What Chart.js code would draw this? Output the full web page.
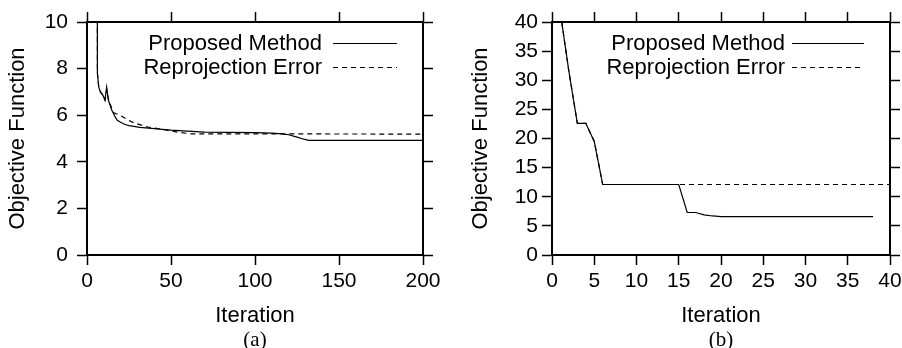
<!DOCTYPE html>
<html>
<head>
<meta charset="utf-8">
<script src="https://cdn.jsdelivr.net/npm/chart.js@4/dist/chart.umd.min.js"></script>
<style>
  html, body { margin: 0; padding: 0; background: #fff; }
  #wrap { position: relative; width: 902px; height: 348px; overflow: hidden; }
  canvas { position: absolute; top: 0; }
  .cap { position: absolute; top: 327px; width: 60px; text-align: center; line-height: 24px;
         font: 21px 'Liberation Serif', 'Times New Roman', serif; color: #000; }
</style>
</head>
<body>
<div id="wrap">
  <canvas id="chartA" width="450" height="348" style="left:0"></canvas>
  <canvas id="chartB" width="452" height="348" style="left:450px"></canvas>
  <div class="cap" style="left:225px">(a)</div>
  <div class="cap" style="left:691px">(b)</div>
</div>
<script>
// (a) long run, 0..200 iterations
const iterA_proposed = [6.1, 6.2, 7, 8, 9.5, 10.7, 11.7, 12.7, 14.7, 16.7, 18, 20, 22.6, 25, 31.5, 40, 45, 50, 60, 70, 85, 100, 110, 116, 120, 125, 129, 132, 200];
const valA_proposed  = [14, 7.8, 7.2, 7.0, 6.85, 6.65, 7.2, 6.65, 6.22, 5.94, 5.78, 5.7, 5.6, 5.55, 5.48, 5.42, 5.39, 5.36, 5.32, 5.27, 5.26, 5.25, 5.23, 5.2, 5.16, 5.06, 4.97, 4.92, 4.92];
const iterA_reproj   = [6.1, 6.2, 7, 8, 9.5, 10.7, 11.7, 12.7, 14.7, 16, 19.6, 23, 27.6, 35.5, 45, 50, 55, 62, 200];
const valA_reproj    = [14, 7.8, 7.2, 7.0, 6.85, 6.65, 7.1, 6.7, 6.3, 6.1, 6.0, 5.85, 5.68, 5.5, 5.39, 5.33, 5.26, 5.2, 5.19];

// (b) short run, 0..40 iterations
const iterB_proposed = [1, 2, 3, 4, 5, 6, 15, 16, 17, 18, 19, 20, 38];
const valB_proposed  = [41.5, 31.5, 22.6, 22.6, 19.5, 12.1, 12.1, 7.3, 7.3, 6.9, 6.7, 6.6, 6.6];
const iterB_reproj   = [1, 2, 3, 4, 5, 6, 15, 40];
const valB_reproj    = [41.5, 31.5, 22.6, 22.6, 19.5, 12.1, 12.1, 12.1];

const TICKS_A_X = [0, 50, 100, 150, 200];
const TICKS_A_Y = [0, 2, 4, 6, 8, 10];
const TICKS_B_X = [0, 5, 10, 15, 20, 25, 30, 35, 40];
const TICKS_B_Y = [0, 5, 10, 15, 20, 25, 30, 35, 40];

const FONT_FAMILY = "'Liberation Sans', Arial, Helvetica, sans-serif";
const TICK_FONT  = { family: FONT_FAMILY, size: 21 };
const TITLE_FONT = { family: FONT_FAMILY, size: 22 };

const toPoints = (xs, ys) => xs.map((x, i) => ({ x, y: ys[i] }));

// legend drawn inside the plot: text right-aligned, line sample to its right
const insideLegend = {
  id: 'insideLegend',
  afterDatasetsDraw(chart, args, opts) {
    const { ctx, chartArea } = chart;
    ctx.save();
    ctx.font = TITLE_FONT.size + 'px ' + FONT_FAMILY;
    ctx.fillStyle = '#000';
    ctx.strokeStyle = '#000';
    ctx.lineWidth = 1.2;
    ctx.textAlign = 'right';
    ctx.textBaseline = 'middle';
    chart.data.datasets.forEach((ds, i) => {
      const y = chartArea.top + opts.top + i * opts.gap;
      ctx.fillText(ds.label, chartArea.right - opts.textRight, y + 1);
      ctx.setLineDash(ds.borderDash || []);
      ctx.beginPath();
      ctx.moveTo(chartArea.right - opts.lineFrom, y + 0.5);
      ctx.lineTo(chartArea.right - opts.lineTo, y + 0.5);
      ctx.stroke();
    });
    ctx.restore();
  }
};

function fixSize(prop, px) {
  return scale => {
    scale[prop] = px;
    scale.paddingLeft = scale.paddingRight = scale.paddingTop = scale.paddingBottom = 0;
  };
}

function edgeScale(position, min, max, tickVals, size) {
  const horizontal = position === 'top' || position === 'bottom';
  return {
    type: 'linear', position, min, max,
    afterBuildTicks: s => { s.ticks = tickVals.map(v => ({ value: v })); },
    afterFit: fixSize(horizontal ? 'height' : 'width', size),
    ticks: { display: false },
    grid: { drawOnChartArea: false, drawTicks: true, tickLength: 10, tickWidth: 1.5, tickColor: '#000' },
    border: { display: true, color: '#000', width: 2 }
  };
}

function makeChart(canvas, cfg) {
  return new Chart(canvas, {
    type: 'scatter',
    data: {
      datasets: [
        { label: 'Proposed Method', data: toPoints(cfg.xp, cfg.yp),
          showLine: true, borderColor: '#000', borderWidth: 1.2, pointRadius: 0, tension: 0 },
        { label: 'Reprojection Error', data: toPoints(cfg.xr, cfg.yr),
          showLine: true, borderColor: '#000', borderWidth: 1.2, borderDash: [5, 4], pointRadius: 0, tension: 0 }
      ]
    },
    options: {
      responsive: false,
      animation: false,
      layout: { padding: 0 },
      plugins: {
        legend: { display: false },
        tooltip: { enabled: false },
        insideLegend: cfg.legend
      },
      scales: {
        x: {
          type: 'linear', position: 'bottom', min: cfg.xmin, max: cfg.xmax,
          afterBuildTicks: s => { s.ticks = cfg.xticks.map(v => ({ value: v })); },
          afterFit: fixSize('height', 93),
          ticks: { color: '#000', font: TICK_FONT, padding: 4, maxRotation: 0, autoSkip: false },
          grid: { drawOnChartArea: false, drawTicks: true, tickLength: 10, tickWidth: 1.5, tickColor: '#000' },
          border: { display: true, color: '#000', width: 2 },
          title: { display: true, text: 'Iteration', color: '#000', font: TITLE_FONT, padding: { top: 0, bottom: 19 } }
        },
        y: {
          type: 'linear', position: 'left', min: cfg.ymin, max: cfg.ymax,
          afterBuildTicks: s => { s.ticks = cfg.yticks.map(v => ({ value: v })); },
          afterFit: fixSize('width', cfg.yWidth),
          ticks: { color: '#000', font: TICK_FONT, padding: cfg.yPad, autoSkip: false },
          grid: { drawOnChartArea: false, drawTicks: true, tickLength: 10, tickWidth: 1.5, tickColor: '#000' },
          border: { display: true, color: '#000', width: 2 },
          title: { display: true, text: 'Objective Function', color: '#000', font: TITLE_FONT, padding: { top: cfg.yTitlePad, bottom: 0 } }
        },
        x2: edgeScale('top', cfg.xmin, cfg.xmax, cfg.xticks, 22),
        y2: edgeScale('right', cfg.ymin, cfg.ymax, cfg.yticks, cfg.rightWidth)
      }
    },
    plugins: [insideLegend]
  });
}

makeChart(document.getElementById('chartA'), {
  xp: iterA_proposed, yp: valA_proposed, xr: iterA_reproj, yr: valA_reproj,
  xmin: 0, xmax: 200, ymin: 0, ymax: 10, xticks: TICKS_A_X, yticks: TICKS_A_Y,
  yWidth: 87, rightWidth: 27, yPad: 9, yTitlePad: 5,
  legend: { top: 21, gap: 24, textRight: 101, lineFrom: 90, lineTo: 26 }
});

makeChart(document.getElementById('chartB'), {
  xp: iterB_proposed, yp: valB_proposed, xr: iterB_reproj, yr: valB_reproj,
  xmin: 0, xmax: 40, ymin: 0, ymax: 40, xticks: TICKS_B_X, yticks: TICKS_B_Y,
  yWidth: 102, rightWidth: 12, yPad: 4, yTitlePad: 18,
  legend: { top: 21, gap: 24, textRight: 105, lineFrom: 98, lineTo: 26 }
});
</script>
</body>
</html>
